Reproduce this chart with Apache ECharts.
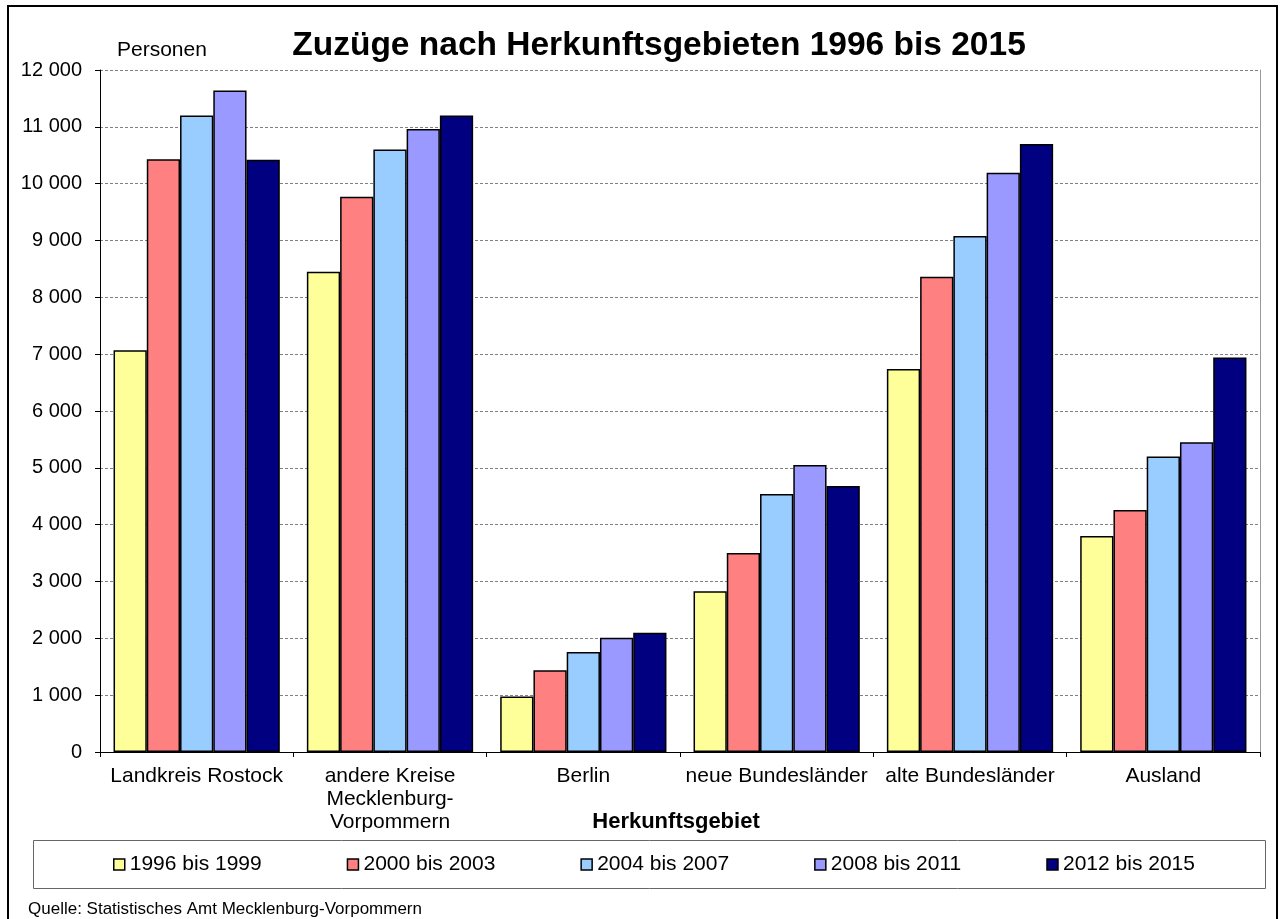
<!DOCTYPE html>
<html>
<head>
<meta charset="utf-8">
<script src="https://cdn.jsdelivr.net/npm/echarts@6/dist/echarts.min.js"></script>
<style>
  html, body { margin: 0; padding: 0; background: #fff; }
  #chart { width: 1280px; height: 919px; }
</style>
</head>
<body>
<div id="chart"></div>
<script>
const gebiete = ['Landkreis Rostock', 'andere Kreise\nMecklenburg-\nVorpommern', 'Berlin', 'neue Bundesländer', 'alte Bundesländer', 'Ausland'];
const zeitraeume = ['1996 bis 1999', '2000 bis 2003', '2004 bis 2007', '2008 bis 2011', '2012 bis 2015'];
const farben = ['#FFFF99', '#FF8080', '#99CCFF', '#9999FF', '#000080'];

const werte1996 = [7070, 8450, 975, 2830, 6740, 3800];
const werte2000 = [10430, 9770, 1440, 3500, 8360, 4260];
const werte2004 = [11200, 10600, 1760, 4540, 9080, 5200];
const werte2008 = [11640, 10960, 2010, 5050, 10190, 5450];
const werte2012 = [10420, 11200, 2100, 4680, 10700, 6940];
const alleWerte = [werte1996, werte2000, werte2004, werte2008, werte2012];

const yMin = 0, yMax = 12000, yStep = 1000;

var font = 'Liberation Sans, Arial, sans-serif';
var myChart = echarts.init(document.getElementById('chart'));

function fmt(v) {
  // Tausender mit Leerzeichen
  return String(v).replace(/\B(?=(\d{3})+(?!\d))/g, ' ');
}

var series = zeitraeume.map(function (name, i) {
  return {
    name: name,
    type: 'bar',
    barGap: 0,
    barCategoryGap: '14%',
    itemStyle: {
      color: farben[i],
      borderColor: '#000',
      borderWidth: 1.5
    },
    data: alleWerte[i]
  };
});

var option = {
  animation: false,
  textStyle: { fontFamily: font },
  title: {
    text: 'Zuzüge nach Herkunftsgebieten 1996 bis 2015',
    left: 654,
    textAlign: 'center',
    top: 24,
    textStyle: { fontSize: 33.5, fontWeight: 'bold', color: '#000', fontFamily: font }
  },
  legend: {
    data: zeitraeume,
    left: 113,
    top: 854,
    padding: 0,
    itemWidth: 11,
    itemHeight: 11,
    itemGap: 85,
    icon: 'rect',
    textStyle: { fontSize: 21, color: '#000', fontFamily: font },
    itemStyle: { borderColor: '#000', borderWidth: 1.5 }
  },
  grid: {
    left: 100,
    right: 20,
    top: 70,
    bottom: 167
  },
  xAxis: {
    type: 'category',
    data: gebiete,
    axisLine: { lineStyle: { color: '#000', width: 1 } },
    axisTick: { show: true, length: 5, lineStyle: { color: '#000' } },
    axisLabel: { interval: 0, fontSize: 21, color: '#000', margin: 13, lineHeight: 23, fontFamily: font }
  },
  yAxis: [{
    type: 'value',
    min: yMin,
    max: yMax,
    interval: yStep,
    axisLine: { show: true, lineStyle: { color: '#000', width: 1 } },
    axisTick: { show: true, length: 5, lineStyle: { color: '#000' } },
    axisLabel: { fontSize: 20, color: '#000', margin: 18, formatter: fmt, fontFamily: font },
    splitLine: { show: true, lineStyle: { color: '#808080', type: [3, 2], width: 1 } }
  }, {
    type: 'value',
    min: yMin,
    max: yMax,
    interval: yStep,
    position: 'right',
    axisLine: { show: true, lineStyle: { color: '#999', width: 1 } },
    axisTick: { show: false },
    axisLabel: { show: false },
    splitLine: { show: false }
  }],
  graphic: [
    {
      type: 'rect',
      shape: { x: 8, y: 6, width: 1269, height: 930 },
      style: { fill: 'none', stroke: '#000', lineWidth: 2 },
      silent: true
    },
    {
      type: 'rect',
      shape: { x: 33.5, y: 840.5, width: 1232, height: 48 },
      style: { fill: 'none', stroke: '#666', lineWidth: 1 },
      silent: true
    },
    {
      type: 'text',
      left: 117,
      top: 40,
      style: { text: 'Personen', fontSize: 21, fill: '#000', fontFamily: font }
    },
    {
      // Achsentitel
      type: 'text',
      x: 676,
      y: 811,
      style: { text: 'Herkunftsgebiet', fontSize: 22, fontWeight: 'bold', fill: '#000', fontFamily: font, textAlign: 'center' }
    },
    {
      type: 'text',
      left: 28,
      top: 901,
      style: { text: 'Quelle: Statistisches Amt Mecklenburg-Vorpommern', fontSize: 17, fill: '#000', fontFamily: font }
    }
  ],
  series: series
};

option && myChart.setOption(option);
</script>
</body>
</html>
